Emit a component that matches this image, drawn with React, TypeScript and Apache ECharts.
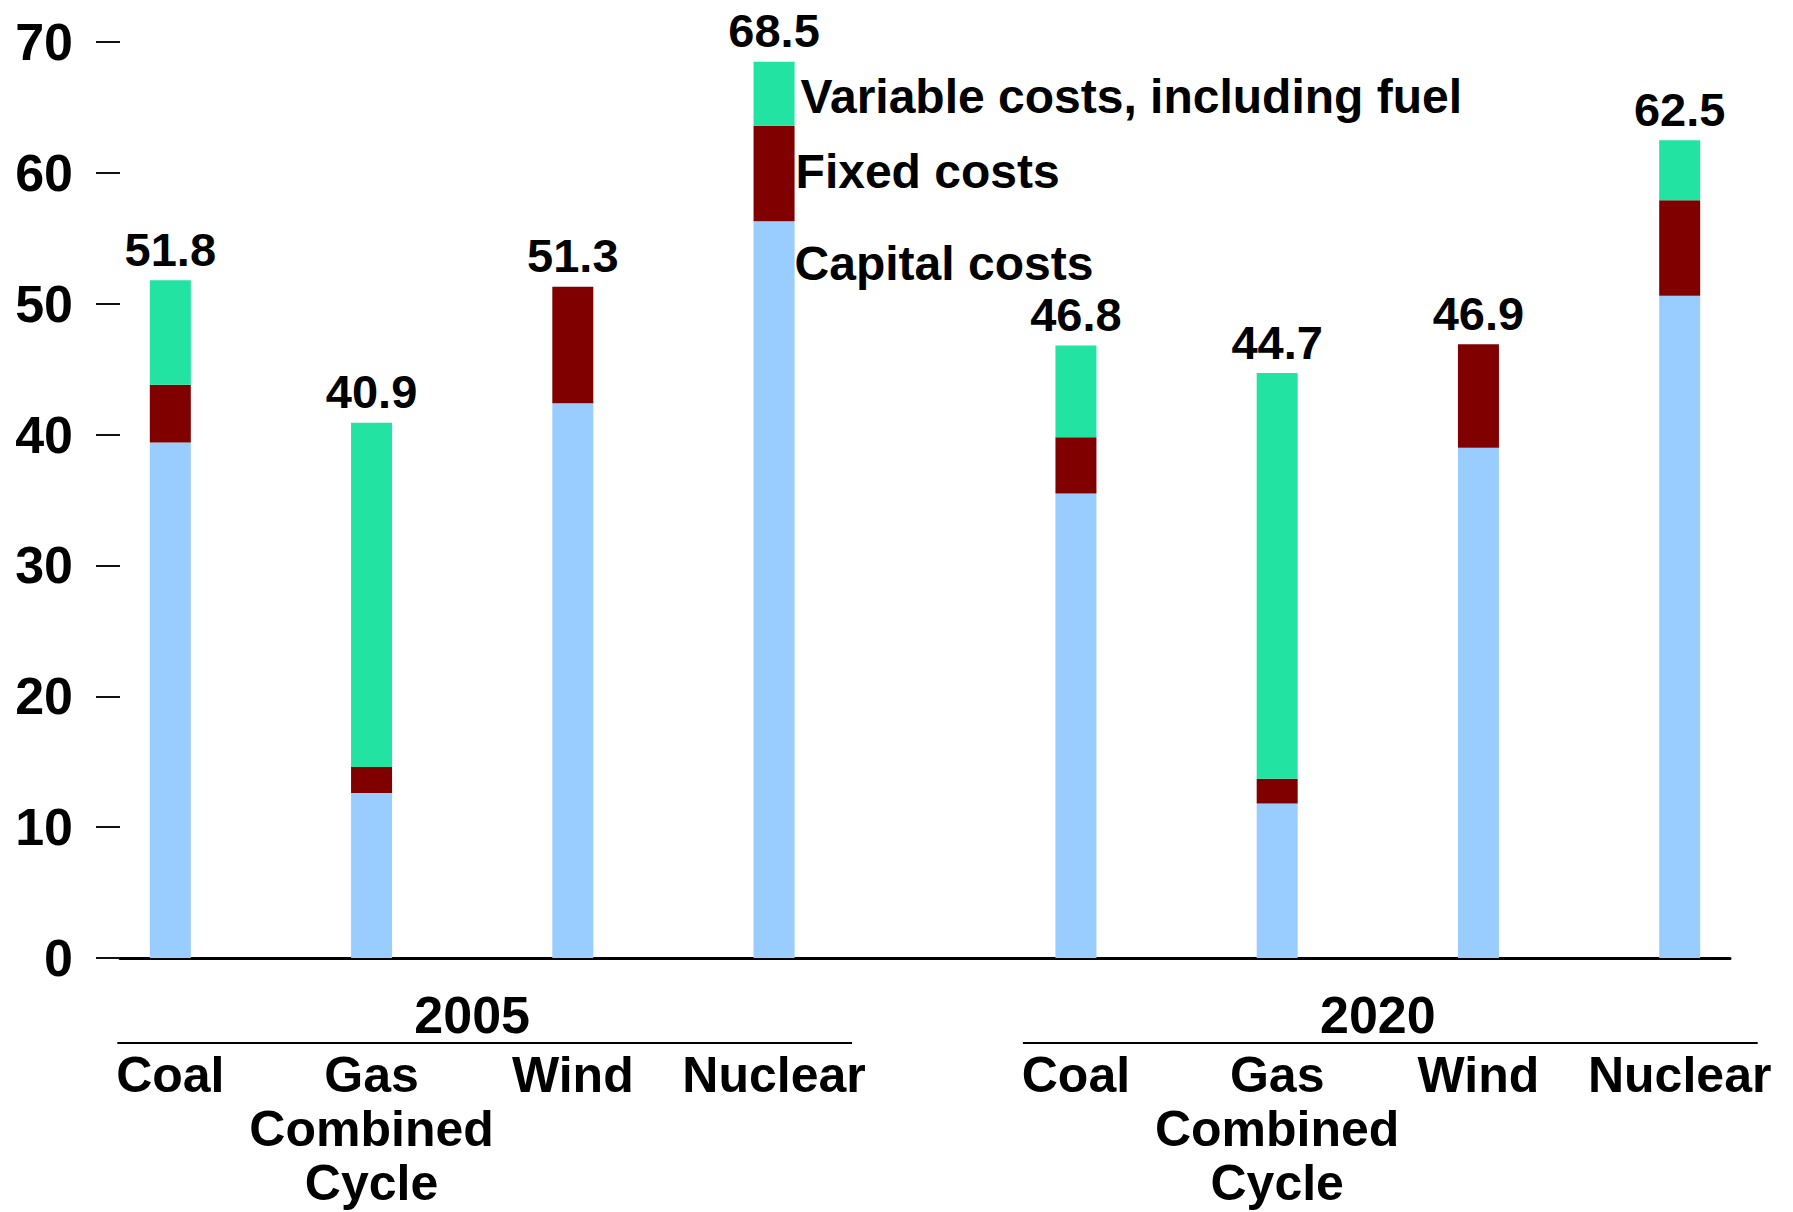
import React, { useEffect, useRef } from "react";
import * as echarts from "echarts";

// ---- data ----
const categories = ["Coal", "Gas\nCombined\nCycle", "Wind", "Nuclear"];
const years = ["2005", "2020"];

const capital2005 = [39.4, 12.6, 42.4, 56.3];
const fixed2005 = [4.4, 2.0, 8.9, 7.3];
const variable2005 = [8.0, 26.3, 0, 4.9];
const totals2005 = [51.8, 40.9, 51.3, 68.5];

const capital2020 = [35.5, 11.8, 39.0, 50.6];
const fixed2020 = [4.3, 1.9, 7.9, 7.3];
const variable2020 = [7.0, 31.0, 0, 4.6];
const totals2020 = [46.8, 44.7, 46.9, 62.5];

const seriesNames = ["Capital costs", "Fixed costs", "Variable costs, including fuel"];
const yTicks = [0, 10, 20, 30, 40, 50, 60, 70];

// ---- layout (slots on the category axis) ----
const ITEM_STEP = 2;
const GROUP_STEP = 9;
const SLOT_COUNT = 16;

const FONT = "'Liberation Sans', Arial, Helvetica, sans-serif";
const COLORS = { capital: "#99CCFF", fixed: "#800000", variable: "#22E3A1" };

function slotOf(g: number, i: number) {
  return g * GROUP_STEP + i * ITEM_STEP;
}

function spread(perGroup: any[][], empty: any) {
  const out: any[] = new Array(SLOT_COUNT).fill(empty);
  perGroup.forEach((arr, g) => arr.forEach((v, i) => (out[slotOf(g, i)] = v)));
  return out;
}

export default function App() {
  const ref = useRef<HTMLDivElement>(null);

  useEffect(() => {
    if (!ref.current) return;
    const chart = echarts.init(ref.current, null, { renderer: "svg" });

    const xLabels = spread([categories, categories], "");
    const capital = spread([capital2005, capital2020], "-");
    const fixed = spread([fixed2005, fixed2020], "-");
    const variable = spread([variable2005, variable2020], "-");
    const totals = spread([totals2005, totals2020], "-");

    const legendLabel = {
      show: true,
      color: "#000",
      fontFamily: FONT,
      fontWeight: "bold",
      fontSize: 48,
    };
    const legendSlot = slotOf(0, 3);
    capital[legendSlot] = {
      value: capital[legendSlot],
      label: { ...legendLabel, position: ["100%", 42], verticalAlign: "middle", align: "left", formatter: seriesNames[0] },
    };
    fixed[legendSlot] = {
      value: fixed[legendSlot],
      label: { ...legendLabel, position: "right", distance: 1, offset: [0, -2], formatter: seriesNames[1] },
    };
    variable[legendSlot] = {
      value: variable[legendSlot],
      label: { ...legendLabel, position: "right", distance: 6, offset: [0, 3], formatter: seriesNames[2] },
    };

    const barBase = {
      type: "bar",
      stack: "cost",
      barWidth: 41,
      label: { show: false },
      emphasis: { disabled: true },
    };

    chart.setOption({
      animation: false,
      backgroundColor: "#ffffff",
      grid: { left: 120, right: 63, top: 42, bottom: 254, containLabel: false },
      xAxis: {
        type: "category",
        data: xLabels,
        boundaryGap: true,
        axisLine: { show: true, lineStyle: { color: "#000", width: 3 } },
        axisTick: { show: false },
        axisLabel: {
          interval: 0,
          margin: 90,
          color: "#000",
          fontFamily: FONT,
          fontWeight: "bold",
          fontSize: 50,
          lineHeight: 54,
          hideOverlap: false,
        },
      },
      yAxis: {
        type: "value",
        min: 0,
        max: yTicks[yTicks.length - 1],
        interval: yTicks[1] - yTicks[0],
        axisLine: { show: false },
        axisTick: { show: true, length: 24, lineStyle: { color: "#111", width: 2 } },
        splitLine: { show: false },
        axisLabel: {
          margin: 47,
          color: "#000",
          fontFamily: FONT,
          fontWeight: "bold",
          fontSize: 52,
        },
      },
      series: [
        { ...barBase, name: seriesNames[0], data: capital, itemStyle: { color: COLORS.capital } },
        { ...barBase, name: seriesNames[1], data: fixed, itemStyle: { color: COLORS.fixed } },
        { ...barBase, name: seriesNames[2], data: variable, itemStyle: { color: COLORS.variable } },
        {
          type: "scatter",
          name: "Total",
          data: totals,
          symbolSize: 1,
          itemStyle: { color: "rgba(255,255,255,0)", opacity: 1 },
          emphasis: { disabled: true },
          label: {
            show: true,
            position: "top",
            distance: 7,
            opacity: 1,
            color: "#000",
            fontFamily: FONT,
            fontWeight: "bold",
            fontSize: 47,
            formatter: (p: any) => Number(p.value).toFixed(1),
          },
          z: 5,
        },
      ],
    });

    const y0 = chart.convertToPixel({ yAxisIndex: 0 }, 0) as number;
    const graphics: any[] = [];
    years.forEach((yr, g) => {
      const first = chart.convertToPixel({ xAxisIndex: 0 }, slotOf(g, 0)) as number;
      const last = chart.convertToPixel({ xAxisIndex: 0 }, slotOf(g, categories.length - 1)) as number;
      graphics.push({
        type: "text",
        x: (first + last) / 2,
        y: y0 + 57,
        style: {
          text: yr,
          fill: "#000",
          fontFamily: FONT,
          fontWeight: "bold",
          fontSize: 52,
          align: "center",
          verticalAlign: "middle",
        },
      });
      graphics.push({
        type: "line",
        shape: { x1: first - 53, y1: y0 + 85, x2: last + 78, y2: y0 + 85 },
        style: { stroke: "#000", lineWidth: 2 },
      });
    });
    chart.setOption({ graphic: graphics });

    return () => chart.dispose();
  }, []);

  return (
    <div
      ref={ref}
      style={{ position: "fixed", left: 0, top: 0, width: 1793, height: 1212, background: "#fff" }}
    />
  );
}
